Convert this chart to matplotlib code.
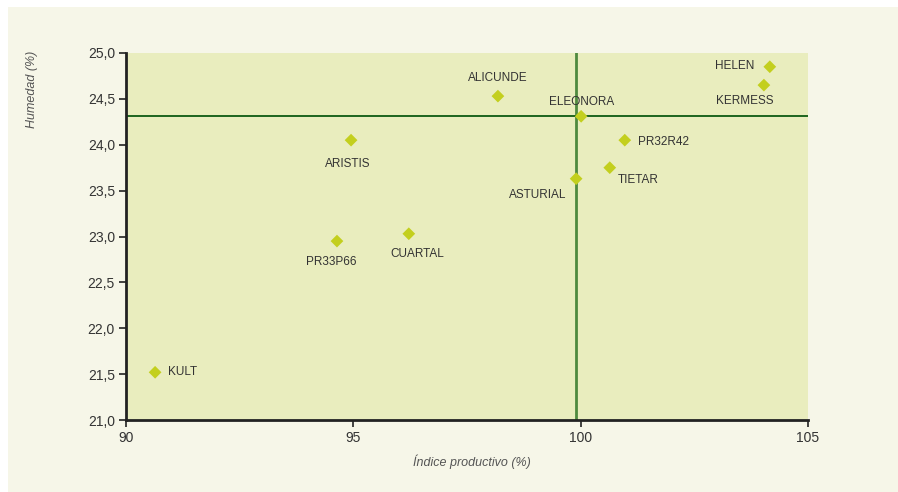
import matplotlib.pyplot as plt
import matplotlib.patches as patches
from matplotlib.ticker import FuncFormatter

# Data
variedades = ['KULT', 'PR33P66', 'CUARTAL', 'ARISTIS', 'ALICUNDE', 'ELEONORA',
              'ASTURIAL', 'TIETAR', 'PR32R42', 'HELEN', 'KERMESS']
indice = [90.64, 94.64, 96.22, 94.95, 98.18, 100.01, 99.90, 100.64, 100.97, 104.16, 104.03]
humedad = [21.52, 22.95, 23.03, 24.05, 24.53, 24.31, 23.63, 23.75, 24.05, 24.85, 24.65]
media_indice = 99.89
media_humedad = 24.31

# label offsets in pixels and alignment for each point
offsets = {
    'KULT': (13, 0, 'left'),
    'PR33P66': (-6, -21, 'center'),
    'CUARTAL': (8, -20, 'center'),
    'ARISTIS': (-3, -24, 'center'),
    'ALICUNDE': (0, 18, 'center'),
    'ELEONORA': (1, 14, 'center'),
    'ASTURIAL': (-38, -16, 'center'),
    'TIETAR': (28, -12, 'center'),
    'PR32R42': (13, -2, 'left'),
    'HELEN': (-15, 1, 'right'),
    'KERMESS': (-19, -16, 'center'),
}

plt.rcParams['font.family'] = ['Liberation Sans', 'DejaVu Sans']

fig = plt.figure(figsize=(8.98, 4.92), dpi=100)
fig.patch.set_facecolor('#f6f6e8')
# thin white strips along the top and left edges
fig.patches.append(patches.Rectangle((0, 0), 8 / 898, 1, transform=fig.transFigure,
                                     facecolor='white', edgecolor='none', zorder=-10))
fig.patches.append(patches.Rectangle((0, 1 - 7 / 492), 1, 7 / 492, transform=fig.transFigure,
                                     facecolor='white', edgecolor='none', zorder=-10))

ax = fig.add_axes([126 / 898, 1 - 420 / 492, 682 / 898, 367 / 492])
ax.set_facecolor('#e9edbe')

ax.axvline(media_indice, color='#4f8a3f', lw=2, zorder=2)
ax.axhline(media_humedad, color='#0d5a12', lw=1.3, zorder=2)

ax.scatter(indice, humedad, marker='D', s=42, color='#c3cf1e', edgecolors='none', zorder=3)

for name, x, y in zip(variedades, indice, humedad):
    dx, dy, ha = offsets[name]
    ax.annotate(name, (x, y), xytext=(dx, dy), textcoords='offset pixels',
                ha=ha, va='center', fontsize=8.5, color='#333333')

ax.set_xlim(90, 105)
ax.set_ylim(21, 25)
ax.set_xticks([90, 95, 100, 105])
ax.set_yticks([21, 21.5, 22, 22.5, 23, 23.5, 24, 24.5, 25])
ax.yaxis.set_major_formatter(FuncFormatter(lambda v, p: f'{v:.1f}'.replace('.', ',')))

for s in ['top', 'right']:
    ax.spines[s].set_visible(False)
for s in ['left', 'bottom']:
    ax.spines[s].set_linewidth(2)
    ax.spines[s].set_color('#222222')
ax.tick_params(length=5, width=1.2, color='#222222', labelsize=10, labelcolor='#333333', pad=3)

ax.set_xlabel('Índice productivo (%)', fontsize=9, style='italic', color='#555555')
ax.xaxis.set_label_coords(0.507, -0.095)
ax.set_ylabel('Humedad (%)', fontsize=9, style='italic', color='#555555', loc='top')
ax.yaxis.set_label_coords(-0.129, 1.005)

fig.savefig('out.png', dpi=100, facecolor=fig.get_facecolor())
